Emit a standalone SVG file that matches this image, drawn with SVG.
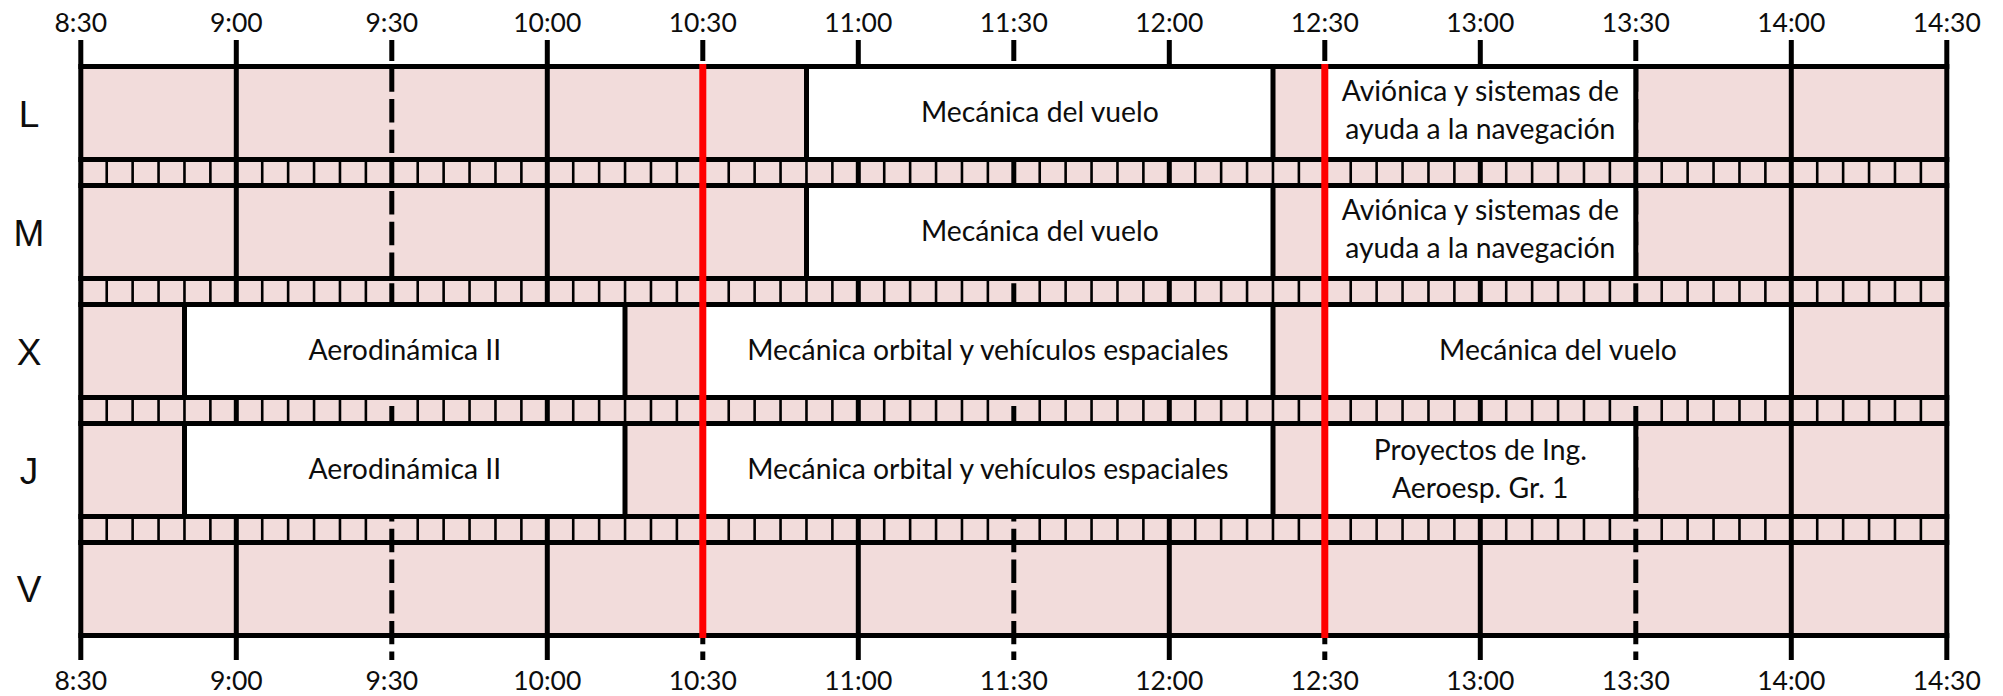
<svg xmlns="http://www.w3.org/2000/svg" xmlns:xlink="http://www.w3.org/1999/xlink" width="2003" height="696" viewBox="0 0 2003 696">
<style>
.bg{fill:#f2dcdb}
.ln{stroke:#000;stroke-width:5;fill:none}
.dv{stroke:#000;stroke-width:2.6;fill:none}
.ds{stroke-dasharray:23.4 7.3;stroke-dashoffset:2.4}
.box{fill:#fff}
.red{stroke:#ff0000;stroke-width:7;fill:none}
.t{font-family:Lato,"Noto Sans",sans-serif;font-size:28.3px;fill:#0d0d0d;text-anchor:middle}
.tm{font-family:Lato,"Noto Sans",sans-serif;font-size:26.5px;fill:#0d0d0d;text-anchor:middle}
.rw{font-family:"Liberation Sans",Arial,sans-serif;font-size:37px;fill:#0d0d0d;text-anchor:middle}
</style>
<defs>
<path id="divs" class="dv" d="M106.72 159.5v26M132.63 159.5v26M158.55 159.5v26M184.47 159.5v26M210.38 159.5v26M262.22 159.5v26M288.13 159.5v26M314.05 159.5v26M339.97 159.5v26M365.88 159.5v26M417.72 159.5v26M443.63 159.5v26M469.55 159.5v26M495.47 159.5v26M521.38 159.5v26M573.22 159.5v26M599.13 159.5v26M625.05 159.5v26M650.97 159.5v26M676.88 159.5v26M728.72 159.5v26M754.63 159.5v26M780.55 159.5v26M806.47 159.5v26M832.38 159.5v26M884.22 159.5v26M910.13 159.5v26M936.05 159.5v26M961.97 159.5v26M987.88 159.5v26M1039.72 159.5v26M1065.63 159.5v26M1091.55 159.5v26M1117.47 159.5v26M1143.38 159.5v26M1195.22 159.5v26M1221.13 159.5v26M1247.05 159.5v26M1272.97 159.5v26M1298.88 159.5v26M1350.72 159.5v26M1376.63 159.5v26M1402.55 159.5v26M1428.47 159.5v26M1454.38 159.5v26M1506.22 159.5v26M1532.13 159.5v26M1558.05 159.5v26M1583.97 159.5v26M1609.88 159.5v26M1661.72 159.5v26M1687.63 159.5v26M1713.55 159.5v26M1739.47 159.5v26M1765.38 159.5v26M1817.22 159.5v26M1843.13 159.5v26M1869.05 159.5v26M1894.97 159.5v26M1920.88 159.5v26"/>
</defs>

<rect class="bg" x="80.8" y="66.5" width="1866" height="569"/>

<g id="connectors">
  <g id="strip-dividers">
    <use xlink:href="#divs"/>
    <use xlink:href="#divs" y="119"/>
    <use xlink:href="#divs" y="238"/>
    <use xlink:href="#divs" y="357"/>
  </g>
  <g id="hour-lines" class="ln">
    <path d="M80.8 40V660M236.3 40V660M547.3 40V660M858.3 40V660M1169.3 40V660M1480.3 40V660M1791.3 40V660M1946.8 40V660"/>
  </g>
  <g id="half-hour-lines" class="ln ds">
    <path d="M391.8 40V660M702.8 40V660M1013.8 40V660M1324.8 40V660M1635.8 40V660"/>
  </g>
</g>

<g id="row-L">
  <g id="L-mecanica-vuelo">
    <rect class="box" x="806.5" y="66.5" width="466.5" height="93"/>
    <path class="ln" d="M806.5 66.5V159.5M1273 66.5V159.5"/>
    <text class="t" x="1039.8" y="121.7">Mecánica del vuelo</text>
  </g>
  <g id="L-avionica">
    <rect class="box" x="1324.8" y="66.5" width="311" height="93"/>
    <path class="ln" d="M1324.8 66.5V159.5M1635.8 66.5V159.5"/>
    <text class="t" x="1480.3" y="101">Aviónica y sistemas de</text>
    <text class="t" x="1480.3" y="138.5">ayuda a la navegación</text>
  </g>
</g>

<g id="row-M">
  <g id="M-mecanica-vuelo">
    <rect class="box" x="806.5" y="185.5" width="466.5" height="93"/>
    <path class="ln" d="M806.5 185.5V278.5M1273 185.5V278.5"/>
    <text class="t" x="1039.8" y="240.7">Mecánica del vuelo</text>
  </g>
  <g id="M-avionica">
    <rect class="box" x="1324.8" y="185.5" width="311" height="93"/>
    <path class="ln" d="M1324.8 185.5V278.5M1635.8 185.5V278.5"/>
    <text class="t" x="1480.3" y="220">Aviónica y sistemas de</text>
    <text class="t" x="1480.3" y="257.5">ayuda a la navegación</text>
  </g>
</g>

<g id="row-X">
  <g id="X-aerodinamica">
    <rect class="box" x="184.5" y="304.5" width="440.5" height="93"/>
    <path class="ln" d="M184.5 304.5V397.5M625 304.5V397.5"/>
    <text class="t" x="404.8" y="359.7">Aerodinámica II</text>
  </g>
  <g id="X-mecanica-orbital">
    <rect class="box" x="702.8" y="304.5" width="570.2" height="93"/>
    <path class="ln" d="M702.8 304.5V397.5M1273 304.5V397.5"/>
    <text class="t" x="987.9" y="359.7">Mecánica orbital y vehículos espaciales</text>
  </g>
  <g id="X-mecanica-vuelo">
    <rect class="box" x="1324.8" y="304.5" width="466.5" height="93"/>
    <path class="ln" d="M1324.8 304.5V397.5M1791.3 304.5V397.5"/>
    <text class="t" x="1558" y="359.7">Mecánica del vuelo</text>
  </g>
</g>

<g id="row-J">
  <g id="J-aerodinamica">
    <rect class="box" x="184.5" y="423.5" width="440.5" height="93"/>
    <path class="ln" d="M184.5 423.5V516.5M625 423.5V516.5"/>
    <text class="t" x="404.8" y="478.7">Aerodinámica II</text>
  </g>
  <g id="J-mecanica-orbital">
    <rect class="box" x="702.8" y="423.5" width="570.2" height="93"/>
    <path class="ln" d="M702.8 423.5V516.5M1273 423.5V516.5"/>
    <text class="t" x="987.9" y="478.7">Mecánica orbital y vehículos espaciales</text>
  </g>
  <g id="J-proyectos">
    <rect class="box" x="1324.8" y="423.5" width="311" height="93"/>
    <path class="ln" d="M1324.8 423.5V516.5M1635.8 423.5V516.5"/>
    <text class="t" x="1480.3" y="459.5">Proyectos de Ing.</text>
    <text class="t" x="1480.3" y="497.5">Aeroesp. Gr. 1</text>
  </g>
</g>

<g id="row-lines" class="ln">
  <path d="M78.3 66.5H1949.3M78.3 159.5H1949.3M78.3 185.5H1949.3M78.3 278.5H1949.3M78.3 304.5H1949.3M78.3 397.5H1949.3M78.3 423.5H1949.3M78.3 516.5H1949.3M78.3 542.5H1949.3M78.3 635.5H1949.3"/>
</g>

<g id="red-lines" class="red">
  <path d="M702.8 64V638M1324.8 64V638"/>
</g>

<g id="row-labels" class="rw">
  <text x="29" y="126.5">L</text>
  <text x="29" y="245.5">M</text>
  <text x="29" y="364.5">X</text>
  <text x="29" y="483.5">J</text>
  <text x="29" y="602">V</text>
</g>

<g id="time-top" class="tm">
  <text x="80.8" y="32">8:30</text>
  <text x="236.3" y="32">9:00</text>
  <text x="391.8" y="32">9:30</text>
  <text x="547.3" y="32">10:00</text>
  <text x="702.8" y="32">10:30</text>
  <text x="858.3" y="32">11:00</text>
  <text x="1013.8" y="32">11:30</text>
  <text x="1169.3" y="32">12:00</text>
  <text x="1324.8" y="32">12:30</text>
  <text x="1480.3" y="32">13:00</text>
  <text x="1635.8" y="32">13:30</text>
  <text x="1791.3" y="32">14:00</text>
  <text x="1946.8" y="32">14:30</text>
</g>
<g id="time-bottom" class="tm">
  <text x="80.8" y="690">8:30</text>
  <text x="236.3" y="690">9:00</text>
  <text x="391.8" y="690">9:30</text>
  <text x="547.3" y="690">10:00</text>
  <text x="702.8" y="690">10:30</text>
  <text x="858.3" y="690">11:00</text>
  <text x="1013.8" y="690">11:30</text>
  <text x="1169.3" y="690">12:00</text>
  <text x="1324.8" y="690">12:30</text>
  <text x="1480.3" y="690">13:00</text>
  <text x="1635.8" y="690">13:30</text>
  <text x="1791.3" y="690">14:00</text>
  <text x="1946.8" y="690">14:30</text>
</g>
</svg>
